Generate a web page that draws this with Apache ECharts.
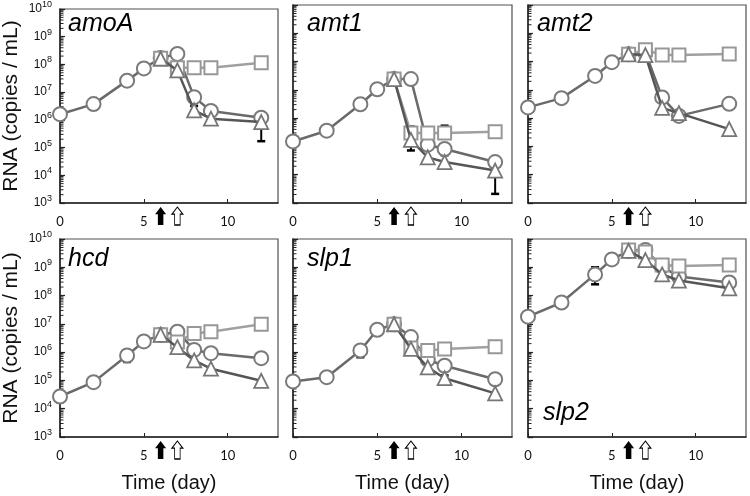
<!DOCTYPE html>
<html><head><meta charset="utf-8">
<script src="https://cdn.jsdelivr.net/npm/echarts@6/dist/echarts.min.js"></script>
<style>html,body{margin:0;padding:0;background:#fff}#c{width:750px;height:496px}</style>
</head><body><div id="c"></div>
<script>
// ---- data ----
const days = [0, 2, 4, 5, 6, 7, 8, 9, 12];
const daysPost = [6, 7, 8, 9, 12];
const xTicks = [0, 5, 10];
const yTickExponents = [3, 4, 5, 6, 7, 8, 9, 10];
const minorMultipliers = [2, 3, 4, 5, 6, 7, 8, 9];
const panelNames = ['amoA', 'amt1', 'amt2', 'hcd', 'slp1', 'slp2'];

const amoA_circle   = [1.6e6, 3.7e6, 2.6e7, 7.2e7, 1.7e8, 2.4e8, 6.6e6, 2.1e6, 1.2e6];
const amoA_triangle = [1.6e8, 6.1e7, 2.2e6, 1.1e6, 8.3e5];
const amoA_square   = [1.66e8, 7.6e7, 7.6e7, 7.6e7, 1.15e8];
const amoA_err      = [[2, 3.7e6, 2.9e6], [4, 2.6e7, 2.0e7], [8, 6.6e6, 3.2e6], [12, 8.3e5, 1.7e5]];

const amt1_circle   = [1.5e5, 3.6e5, 3.1e6, 1.05e7, 2.4e7, 2.4e7, 1.15e5, 8.1e4, 2.8e4];
const amt1_triangle = [2.4e7, 1.7e5, 4.1e4, 2.8e4, 1.4e4];
const amt1_square   = [2.4e7, 3.0e5, 3.0e5, 3.0e5, 3.3e5];
const amt1_err      = [[2, 3.6e5, 2.6e5], [4, 3.1e6, 2.1e6], [7, 1.7e5, 7.2e4], [7, 3.0e5, 5.0e5], [9, 3.0e5, 5.4e5], [9, 8.1e4, 4.9e4], [12, 1.4e4, 2.1e3]];

const amt2_circle   = [2.4e6, 5.1e6, 3.1e7, 9.5e7, 1.8e8, 2.1e8, 5.4e6, 1.2e6, 3.2e6];
const amt2_triangle = [1.8e8, 1.7e8, 2.3e6, 1.5e6, 4.1e5];
const amt2_square   = [1.8e8, 2.6e8, 1.7e8, 1.7e8, 1.85e8];
const amt2_err      = [[7, 1.7e8, 1.1e8], [8, 5.4e6, 7.5e6], [9, 1.5e6, 1.2e6]];

const hcd_circle    = [2.7e4, 8.7e4, 7.6e5, 2.4e6, 4.1e6, 5.3e6, 1.2e6, 9.2e5, 6.1e5];
const hcd_triangle  = [4.1e6, 1.5e6, 5.1e5, 2.6e5, 9.7e4];
const hcd_square    = [4.1e6, 2.3e6, 4.6e6, 5.3e6, 9.7e6];
const hcd_err       = [[4, 7.6e5, 4.5e5], [8, 1.2e6, 1.6e6]];

const slp1_circle   = [9.2e4, 1.3e5, 1.15e6, 6.2e6, 9.7e6, 3.4e6, 5.4e5, 3.3e5, 1.1e5];
const slp1_triangle = [9.7e6, 1.3e6, 2.9e5, 1.2e5, 3.5e4];
const slp1_square   = [9.7e6, 1.4e6, 1.15e6, 1.3e6, 1.55e6];
const slp1_err      = [[4, 1.15e6, 6.6e5], [9, 1.2e5, 1.5e5], [12, 3.5e4, 3.0e4]];

const slp2_circle   = [1.8e7, 5.7e7, 5.6e8, 1.9e9, 3.8e9, 4.1e9, 1.05e9, 4.7e8, 2.9e8];
const slp2_triangle = [3.8e9, 1.8e9, 5.6e8, 3.4e8, 1.8e8];
const slp2_square   = [4.1e9, 3.5e9, 1.2e9, 1.1e9, 1.2e9];
const slp2_err      = [[4, 5.6e8, 2.5e8], [4, 5.6e8, 1.0e9], [12, 1.8e8, 1.5e8]];

const arrowDays = [6, 7];

// ---- layout ----
const circles = [amoA_circle, amt1_circle, amt2_circle, hcd_circle, slp1_circle, slp2_circle];
const triangles = [amoA_triangle, amt1_triangle, amt2_triangle, hcd_triangle, slp1_triangle, slp2_triangle];
const squares = [amoA_square, amt1_square, amt2_square, hcd_square, slp1_square, slp2_square];
const errs = [amoA_err, amt1_err, amt2_err, hcd_err, slp1_err, slp2_err];

const cols = [{left: 60, width: 218}, {left: 293, width: 219}, {left: 528, width: 218}];
const rows = [{top: 5, height: 198}, {top: 239, height: 198}];
const titlePos = [[68, 24], [307, 24], [537, 24], [68, 259], [307, 259], [543, 413]];

const arrowPath = 'path://M6,0L12,8L9,8L9,20L3,20L3,8L0,8Z';
const ff = "'Liberation Sans', Arial, sans-serif";

// tick marks for the log axis (positions of 2..9 x 10^n)
const minorTickValues = [];
yTickExponents.slice(0, -1).forEach(e => minorMultipliers.forEach(m => minorTickValues.push([0, m * Math.pow(10, e)])));

const grid = [], xAxis = [], yAxis = [], series = [], graphic = [];
for (let i = 0; i < 6; i++) {
  const r = Math.floor(i / 3), c = i % 3;
  grid.push({left: cols[c].left, width: cols[c].width, top: rows[r].top, height: rows[r].height,
    show: true, borderColor: '#505050', borderWidth: 1.2, backgroundColor: 'transparent'});
  xAxis.push({
    gridIndex: i, type: 'value', min: 0, max: 13, interval: 5,
    axisLine: {show: true, lineStyle: {color: '#222', width: 1.5}},
    axisTick: {show: true, inside: true, length: 4, lineStyle: {color: '#222', width: 1}},
    splitLine: {show: false},
    axisLabel: {margin: 12, fontFamily: "Lato, 'Open Sans', sans-serif", fontSize: 13, color: '#111',
      showMaxLabel: false, formatter: v => xTicks.includes(v) ? String(v) : ''},
    name: r === 1 ? 'Time (day)' : '', nameLocation: 'middle', nameGap: 36,
    nameTextStyle: {fontSize: 20, fontFamily: ff, color: '#111'}
  });
  yAxis.push({
    gridIndex: i, type: 'log', logBase: 10, min: 1e3, max: 1e10, splitNumber: 7,
    axisLine: {show: true, lineStyle: {color: '#222', width: 1.5}},
    axisTick: {show: true, inside: true, length: 5, lineStyle: {color: '#222', width: 1.2}},
    splitLine: {show: false},
    axisLabel: {
      show: c === 0, margin: 8,
      formatter: v => {
        const e = Math.round(Math.log10(v));
        return yTickExponents.includes(e) ? '{b|10}{s|' + e + '}' : '';
      },
      rich: {
        b: {fontSize: 12, fontFamily: ff, color: '#111', lineHeight: 18},
        s: {fontSize: 9, fontFamily: ff, color: '#111', verticalAlign: 'top', lineHeight: 10}
      }
    },
    name: c === 0 ? 'RNA (copies / mL)' : '', nameLocation: 'middle', nameGap: 38,
    nameTextStyle: {fontSize: 21, fontFamily: ff, color: '#111'}
  });

  // minor ticks on the log y axis
  series.push({
    type: 'custom', xAxisIndex: i, yAxisIndex: i, z: 0, silent: true, clip: false,
    data: minorTickValues, encode: {x: 0, y: 1},
    renderItem: (params, api) => {
      const p = api.coord([api.value(0), api.value(1)]);
      return {type: 'line', shape: {x1: p[0], y1: p[1], x2: p[0] + 3.5, y2: p[1]}, style: {stroke: '#222', lineWidth: 1}};
    }
  });
  series.push({
    type: 'custom', xAxisIndex: i, yAxisIndex: i, z: 1, silent: true,
    data: errs[i], encode: {x: 0, y: [1, 2]},
    renderItem: (params, api) => {
      const p0 = api.coord([api.value(0), api.value(1)]);
      const p1 = api.coord([api.value(0), api.value(2)]);
      return {type: 'group', children: [
        {type: 'line', shape: {x1: p0[0], y1: p0[1], x2: p1[0], y2: p1[1]}, style: {stroke: '#000', lineWidth: 2}},
        {type: 'line', shape: {x1: p1[0] - 4, y1: p1[1], x2: p1[0] + 4, y2: p1[1]}, style: {stroke: '#000', lineWidth: 2.5}}
      ]};
    }
  });
  series.push({
    type: 'line', xAxisIndex: i, yAxisIndex: i, z: 2,
    data: days.map((d, k) => [d, circles[i][k]]),
    symbol: 'circle', symbolSize: 14, showAllSymbol: true,
    lineStyle: {color: '#6a6a6a', width: 2.5},
    itemStyle: {color: '#fff', borderColor: '#7a7a7a', borderWidth: 2},
    markPoint: {
      silent: true, label: {show: false},
      data: arrowDays.map((d, k) => ({
        coord: [d, 1e3], symbol: arrowPath, symbolSize: [11, 18], symbolOffset: [0, 13],
        itemStyle: k === 0 ? {color: '#000'} : {color: '#fff', borderColor: '#000', borderWidth: 1}
      }))
    }
  });
  series.push({
    type: 'line', xAxisIndex: i, yAxisIndex: i, z: 3,
    data: daysPost.map((d, k) => [d, squares[i][k]]),
    symbol: 'rect', symbolSize: 13, showAllSymbol: true,
    lineStyle: {color: '#a0a0a0', width: 2.5},
    itemStyle: {color: '#fff', borderColor: '#979797', borderWidth: 2}
  });
  series.push({
    type: 'line', xAxisIndex: i, yAxisIndex: i, z: 4,
    data: daysPost.map((d, k) => [d, triangles[i][k]]),
    symbol: 'triangle', symbolSize: 14, showAllSymbol: true,
    lineStyle: {color: '#565656', width: 2.5},
    itemStyle: {color: '#fff', borderColor: '#767676', borderWidth: 1.8}
  });
  graphic.push({type: 'text', x: titlePos[i][0], y: titlePos[i][1], z: 10,
    style: {text: panelNames[i], fontSize: 25, fontStyle: 'italic', fontFamily: ff, fill: '#000', verticalAlign: 'middle'}});
}

const chart = echarts.init(document.getElementById('c'), null, {renderer: 'canvas'});
chart.setOption({animation: false, backgroundColor: '#fff', grid, xAxis, yAxis, series, graphic});
</script></body></html>
